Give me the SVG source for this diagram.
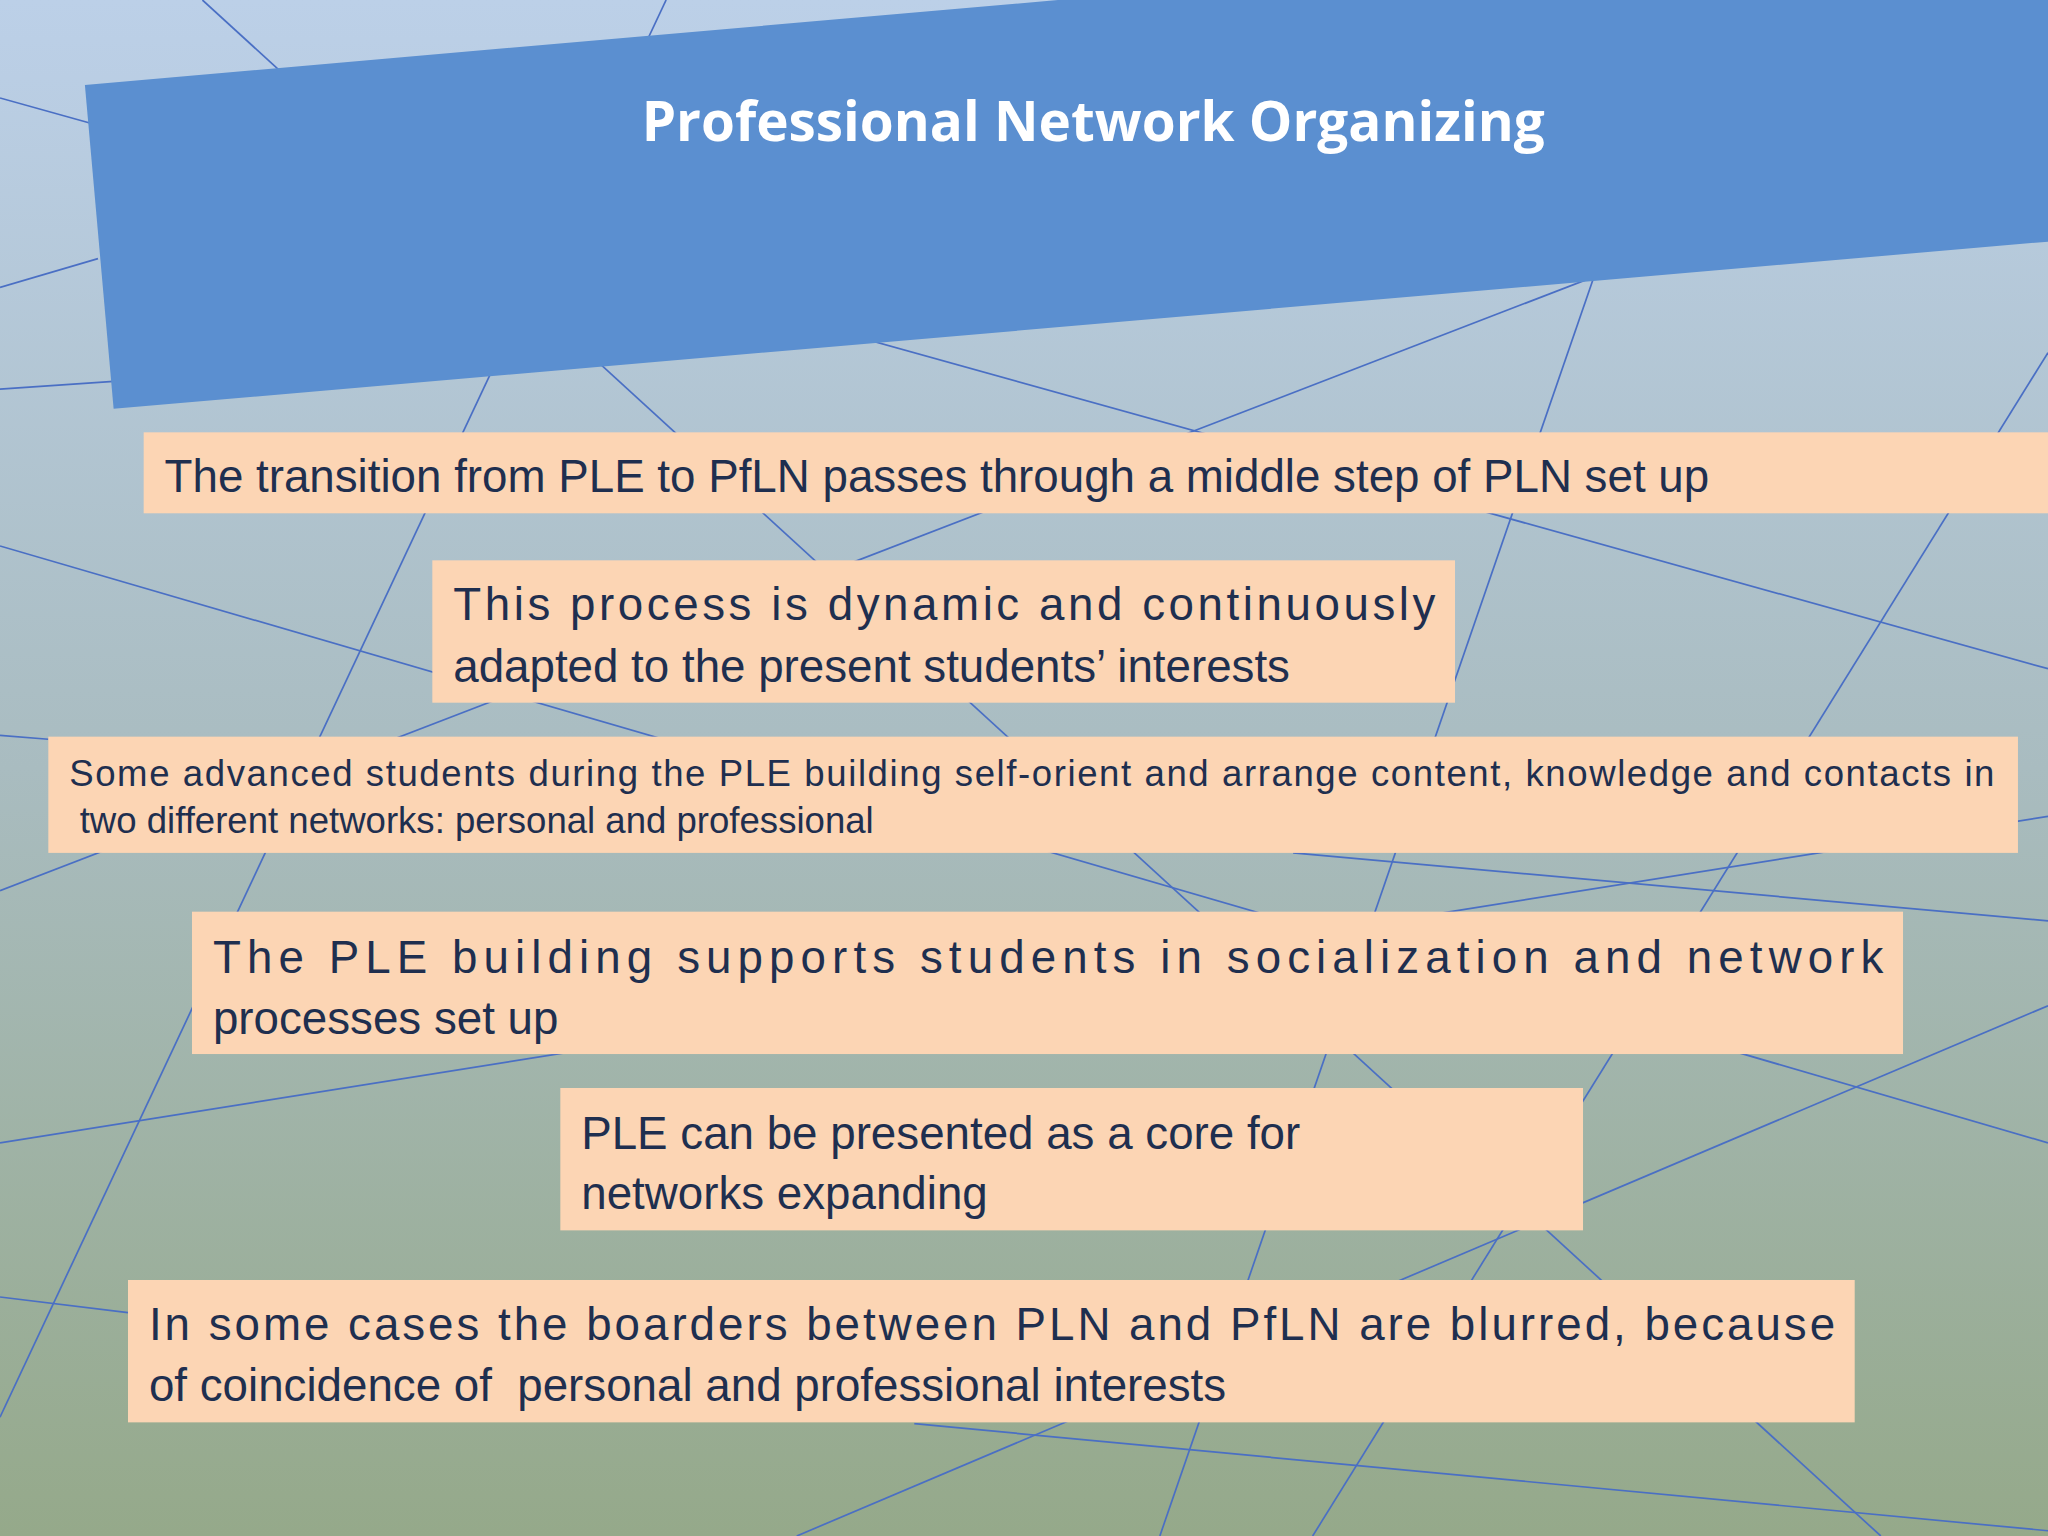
<svg xmlns="http://www.w3.org/2000/svg" width="2048" height="1536" viewBox="0 0 2048 1536">
<defs>
<linearGradient id="bg" x1="0" y1="0" x2="0" y2="1">
<stop offset="0" stop-color="#bcd0e8"/>
<stop offset="0.5" stop-color="#a9bcc0"/>
<stop offset="1" stop-color="#95a98a"/>
</linearGradient>
<style>
.ln{stroke:#4a6fc4;stroke-width:1.3;fill:none}
.box{fill:#fcd5b4}
.t{font-family:"Liberation Sans",Arial,sans-serif;fill:#1f2f4f}
</style>
</defs>
<g transform="scale(1.30612)">
<rect width="1568" height="1176" fill="url(#bg)"/>
<g id="connectors">
<line class="ln" x1="155" y1="0" x2="1440" y2="1176"/>
<line class="ln" x1="510" y1="0" x2="0" y2="1085"/>
<line class="ln" x1="0" y1="75" x2="1568" y2="512"/>
<line class="ln" x1="1568" y1="78" x2="0" y2="682"/>
<line class="ln" x1="1220" y1="213" x2="888" y2="1176"/>
<line class="ln" x1="1568" y1="270" x2="1005" y2="1176"/>
<line class="ln" x1="0" y1="418" x2="1568" y2="875"/>
<line class="ln" x1="0" y1="220" x2="75" y2="198"/>
<line class="ln" x1="0" y1="298" x2="87" y2="292"/>
<line class="ln" x1="0" y1="563" x2="37" y2="566"/>
<line class="ln" x1="990" y1="653" x2="1568" y2="705"/>
<line class="ln" x1="0" y1="875" x2="1568" y2="625"/>
<line class="ln" x1="1568" y1="770" x2="610" y2="1176"/>
<line class="ln" x1="0" y1="993" x2="98" y2="1005"/>
<line class="ln" x1="700" y1="1090" x2="1568" y2="1172"/>
</g>
<g id="banner">
<polygon points="65,65 810,0 1568,0 1568,185 87,313" fill="#5b8fd0"/>
<text x="837" y="108" text-anchor="middle" font-family="'Open Sans',sans-serif" font-weight="bold" font-size="42" fill="#ffffff">Professional Network Organizing</text>
</g>
<g id="n1"><rect class="box" x="110" y="331" width="1458" height="62"/>
<text class="t" x="126" y="377" font-size="35">The transition from PLE to PfLN passes through a middle step of PLN set up</text></g>
<g id="n2"><rect class="box" x="331" y="429" width="783" height="109"/>
<text class="t" x="347" y="475" font-size="35" textLength="752" lengthAdjust="spacing">This process is dynamic and continuously</text>
<text class="t" x="347" y="522" font-size="35">adapted to the present students’ interests</text></g>
<g id="n3"><rect class="box" x="37" y="564" width="1508" height="89"/>
<text class="t" x="53" y="602" font-size="28" textLength="1474" lengthAdjust="spacing">Some advanced students during the PLE building self-orient and arrange content, knowledge and contacts in</text>
<text class="t" x="61" y="638" font-size="28">two different networks: personal and professional</text></g>
<g id="n4"><rect class="box" x="147" y="698" width="1310" height="109"/>
<text class="t" x="163" y="745" font-size="35" textLength="1279" lengthAdjust="spacing">The PLE building supports students in socialization and network</text>
<text class="t" x="163" y="792" font-size="35">processes set up</text></g>
<g id="n5"><rect class="box" x="429" y="833" width="783" height="109"/>
<text class="t" x="445" y="880" font-size="35">PLE can be presented as a core for</text>
<text class="t" x="445" y="926" font-size="35">networks expanding</text></g>
<g id="n6"><rect class="box" x="98" y="980" width="1322" height="109"/>
<text class="t" x="114" y="1026" font-size="35" textLength="1291" lengthAdjust="spacing">In some cases the boarders between PLN and PfLN are blurred, because</text>
<text class="t" x="114" y="1073" font-size="35" xml:space="preserve">of coincidence of  personal and professional interests</text></g>
</g>
</svg>
